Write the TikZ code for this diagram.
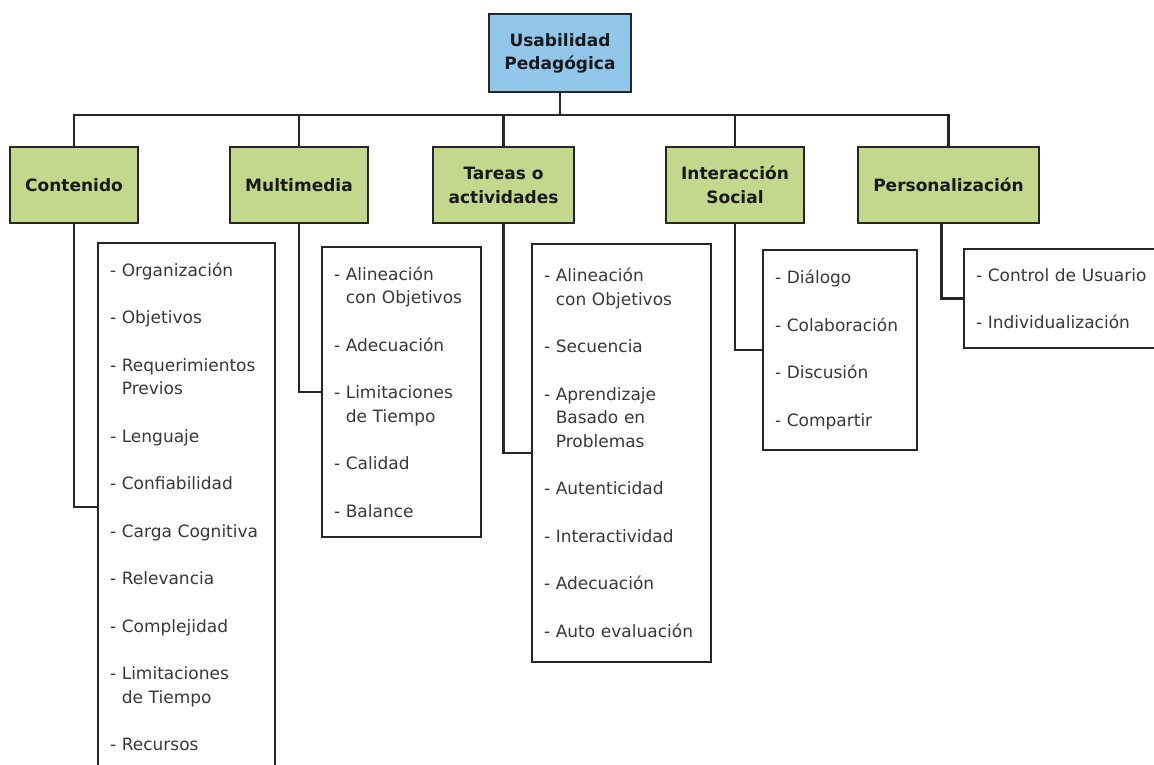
\documentclass[tikz,border=0pt]{standalone}
\usepackage{fontspec}
\setmainfont{DejaVu Sans}
\definecolor{azulraiz}{RGB}{146,199,236}
\definecolor{verderama}{RGB}{195,216,141}
\definecolor{trazo}{RGB}{38,38,38}
\newcommand{\sg}{\phantom{- }}
\tikzset{
	raiz/.style={draw=trazo, line width=2.5pt, fill=azulraiz, text=black!90, font=\bfseries\fontsize{17}{23}\selectfont, align=center, minimum width=142pt, minimum height=78pt, inner sep=0pt},
	rama/.style={draw=trazo, line width=2.5pt, fill=verderama, text=black!90, font=\bfseries\fontsize{17}{24}\selectfont, align=center, minimum height=76pt, inner sep=0pt},
	lista/.style={draw=trazo, line width=2pt, fill=white, text=black!78, font=\fontsize{17}{23.5}\selectfont, align=left, inner xsep=12pt, inner ysep=0pt},
	enlace/.style={draw=trazo, line width=2.5pt},
}

\begin{document}
\begin{tikzpicture}[x=1pt, y=-1pt]
		%%%%% START %%%%%
		\useasboundingbox (0,0) rectangle (1154,765);
		
		\node[raiz] (usab) at (560,53) {Usabilidad\\Pedagógica};
		
		\node[rama, minimum width=128pt] (cont) at (74,185) {Contenido};
		\node[rama, minimum width=138pt] (mult) at (299,185) {Multimedia};
		\node[rama, minimum width=141pt] (tar) at (503.5,185) {Tareas o\\actividades};
		\node[rama, minimum width=138pt] (inter) at (735,185) {Interacción\\Social};
		\node[rama, minimum width=181pt] (pers) at (948.5,185) {Personalización};
		
		\coordinate (bus) at (560,115);
		\draw[enlace] (usab.south) -- (bus);
		\foreach \r in {cont,mult,tar,inter,pers}
			\draw[enlace] (bus) -| (\r.north);
		
		\node[lista, text width=153pt, minimum height=528pt] (contL) at (186.5,507) {- Organización\\[24pt]- Objetivos\\[24pt]- Requerimientos\\\sg Previos\\[24pt]- Lenguaje\\[24pt]- Confiabilidad\\[24pt]- Carga Cognitiva\\[24pt]- Relevancia\\[24pt]- Complejidad\\[24pt]- Limitaciones\\\sg de Tiempo\\[24pt]- Recursos};
		\node[lista, text width=135pt, minimum height=290pt] (multL) at (401.5,392) {- Alineación\\\sg con Objetivos\\[24pt]- Adecuación\\[24pt]- Limitaciones\\\sg de Tiempo\\[24pt]- Calidad\\[24pt]- Balance};
		\node[lista, text width=155pt, minimum height=418pt] (tarL) at (621.5,453) {- Alineación\\\sg con Objetivos\\[24pt]- Secuencia\\[24pt]- Aprendizaje\\\sg Basado en\\\sg Problemas\\[24pt]- Autenticidad\\[24pt]- Interactividad\\[24pt]- Adecuación\\[24pt]- Auto evaluación};
		\node[lista, text width=130pt, minimum height=200pt] (interL) at (840,350) {- Diálogo\\[24pt]- Colaboración\\[24pt]- Discusión\\[24pt]- Compartir};
		\node[lista, text width=174pt, minimum height=99pt] (persL) at (1063,298.5) {- Control de Usuario\\[24pt]- Individualización};
		
		\draw[enlace] (cont.south) |- (contL.west);
		\draw[enlace] (mult.south) |- (multL.west);
		\draw[enlace] (tar.south) |- (tarL.west);
		\draw[enlace] (inter.south) |- (interL.west);
		\draw[enlace] ([xshift=-7pt]pers.south) |- (persL.west);
		
		%%%%% END %%%%%
\end{tikzpicture}
\end{document}
